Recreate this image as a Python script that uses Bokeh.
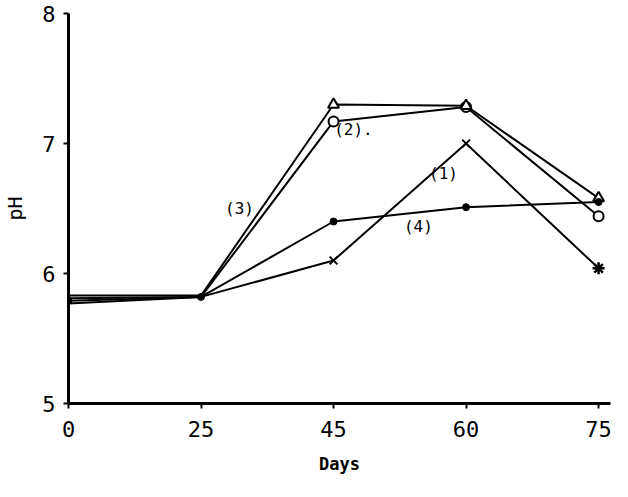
from bokeh.plotting import figure
from bokeh.models import Range1d, FixedTicker, ColumnDataSource
from bokeh.core.properties import value
from bokeh.embed import file_html
from bokeh.resources import INLINE

# Data
days = ["0", "25", "45", "60", "75"]
ph1 = [5.77, 5.82, 6.10, 7.00, 6.04]   # (1)  x marks
ph2 = [5.81, 5.82, 7.17, 7.28, 6.44]   # (2)  open circles
ph3 = [5.83, 5.83, 7.30, 7.29, 6.58]   # (3)  open triangles
ph4 = [5.79, 5.82, 6.40, 6.51, 6.55]   # (4)  filled dots
y_ticks = [5, 6, 7, 8]
series_labels = ["(1)", "(2).", "(3)", "(4)"]

xi = list(range(len(days)))

p = figure(width=628, height=497, output_backend="svg", toolbar_location=None,
           x_range=Range1d(0, 4.09), y_range=Range1d(5, 8),
           min_border_left=65, min_border_right=18, min_border_top=13,
           min_border_bottom=94)
p.outline_line_color = None
p.xgrid.visible = False
p.ygrid.visible = False
p.background_fill_color = "white"
p.border_fill_color = "white"

for ax in (p.xaxis[0], p.yaxis[0]):
    ax.axis_line_width = 3
    ax.axis_line_color = "black"
    ax.major_tick_line_width = 2
    ax.major_tick_out = 5
    ax.major_tick_in = 0
    ax.minor_tick_line_color = None
    ax.major_label_text_font = "DejaVu Sans Mono"
    ax.major_label_text_font_size = "22px"
    ax.major_label_text_color = "black"
    ax.axis_label_text_color = "black"
    ax.axis_label_text_font_style = "normal"

p.xaxis.ticker = FixedTicker(ticks=xi)
p.xaxis.major_label_overrides = {i: d for i, d in enumerate(days)}
p.xaxis.major_label_standoff = 12
p.xaxis.axis_label = "Days"
p.xaxis.axis_label_text_font = "DejaVu Sans Mono"
p.xaxis.axis_label_text_font_size = "17px"
p.xaxis.axis_label_text_font_style = "bold"
p.xaxis.axis_label_standoff = 14

p.yaxis.ticker = FixedTicker(ticks=y_ticks)
p.yaxis.major_label_standoff = 8
p.yaxis.axis_label = "pH"
p.yaxis.axis_label_text_font = "DejaVu Sans Mono"
p.yaxis.axis_label_text_font_size = "20px"
p.yaxis.axis_label_standoff = 12

series = [ph1, ph2, ph3, ph4]
for s in series:
    p.line(xi, s, line_color="black", line_width=2)

# markers
p.scatter(xi[2:4], ph1[2:4], marker="x", size=11, line_color="black", line_width=2)
p.scatter(xi[4:], ph1[4:], marker="asterisk", size=12, line_color="black", line_width=2.5)
p.scatter(xi[2:], ph2[2:], marker="circle", size=10, line_color="black",
          fill_color="white", line_width=2)
p.scatter(xi[2:], ph3[2:], marker="triangle", size=11, line_color="black",
          fill_color="white", line_width=2)
p.scatter(xi, ph4, marker="circle", size=7, line_color="black", fill_color="black")

# series labels
lab_x = [2.83, 2.15, 1.29, 2.64]
lab_y = [6.77, 7.11, 6.50, 6.36]
src = ColumnDataSource(dict(x=lab_x, y=lab_y, t=series_labels))
p.text(x="x", y="y", text="t", source=src, text_align="center",
       text_baseline="middle", text_font=value("DejaVu Sans Mono"),
       text_font_size="16px", text_color="black")

open("out.html", "w").write(file_html(p, INLINE))
